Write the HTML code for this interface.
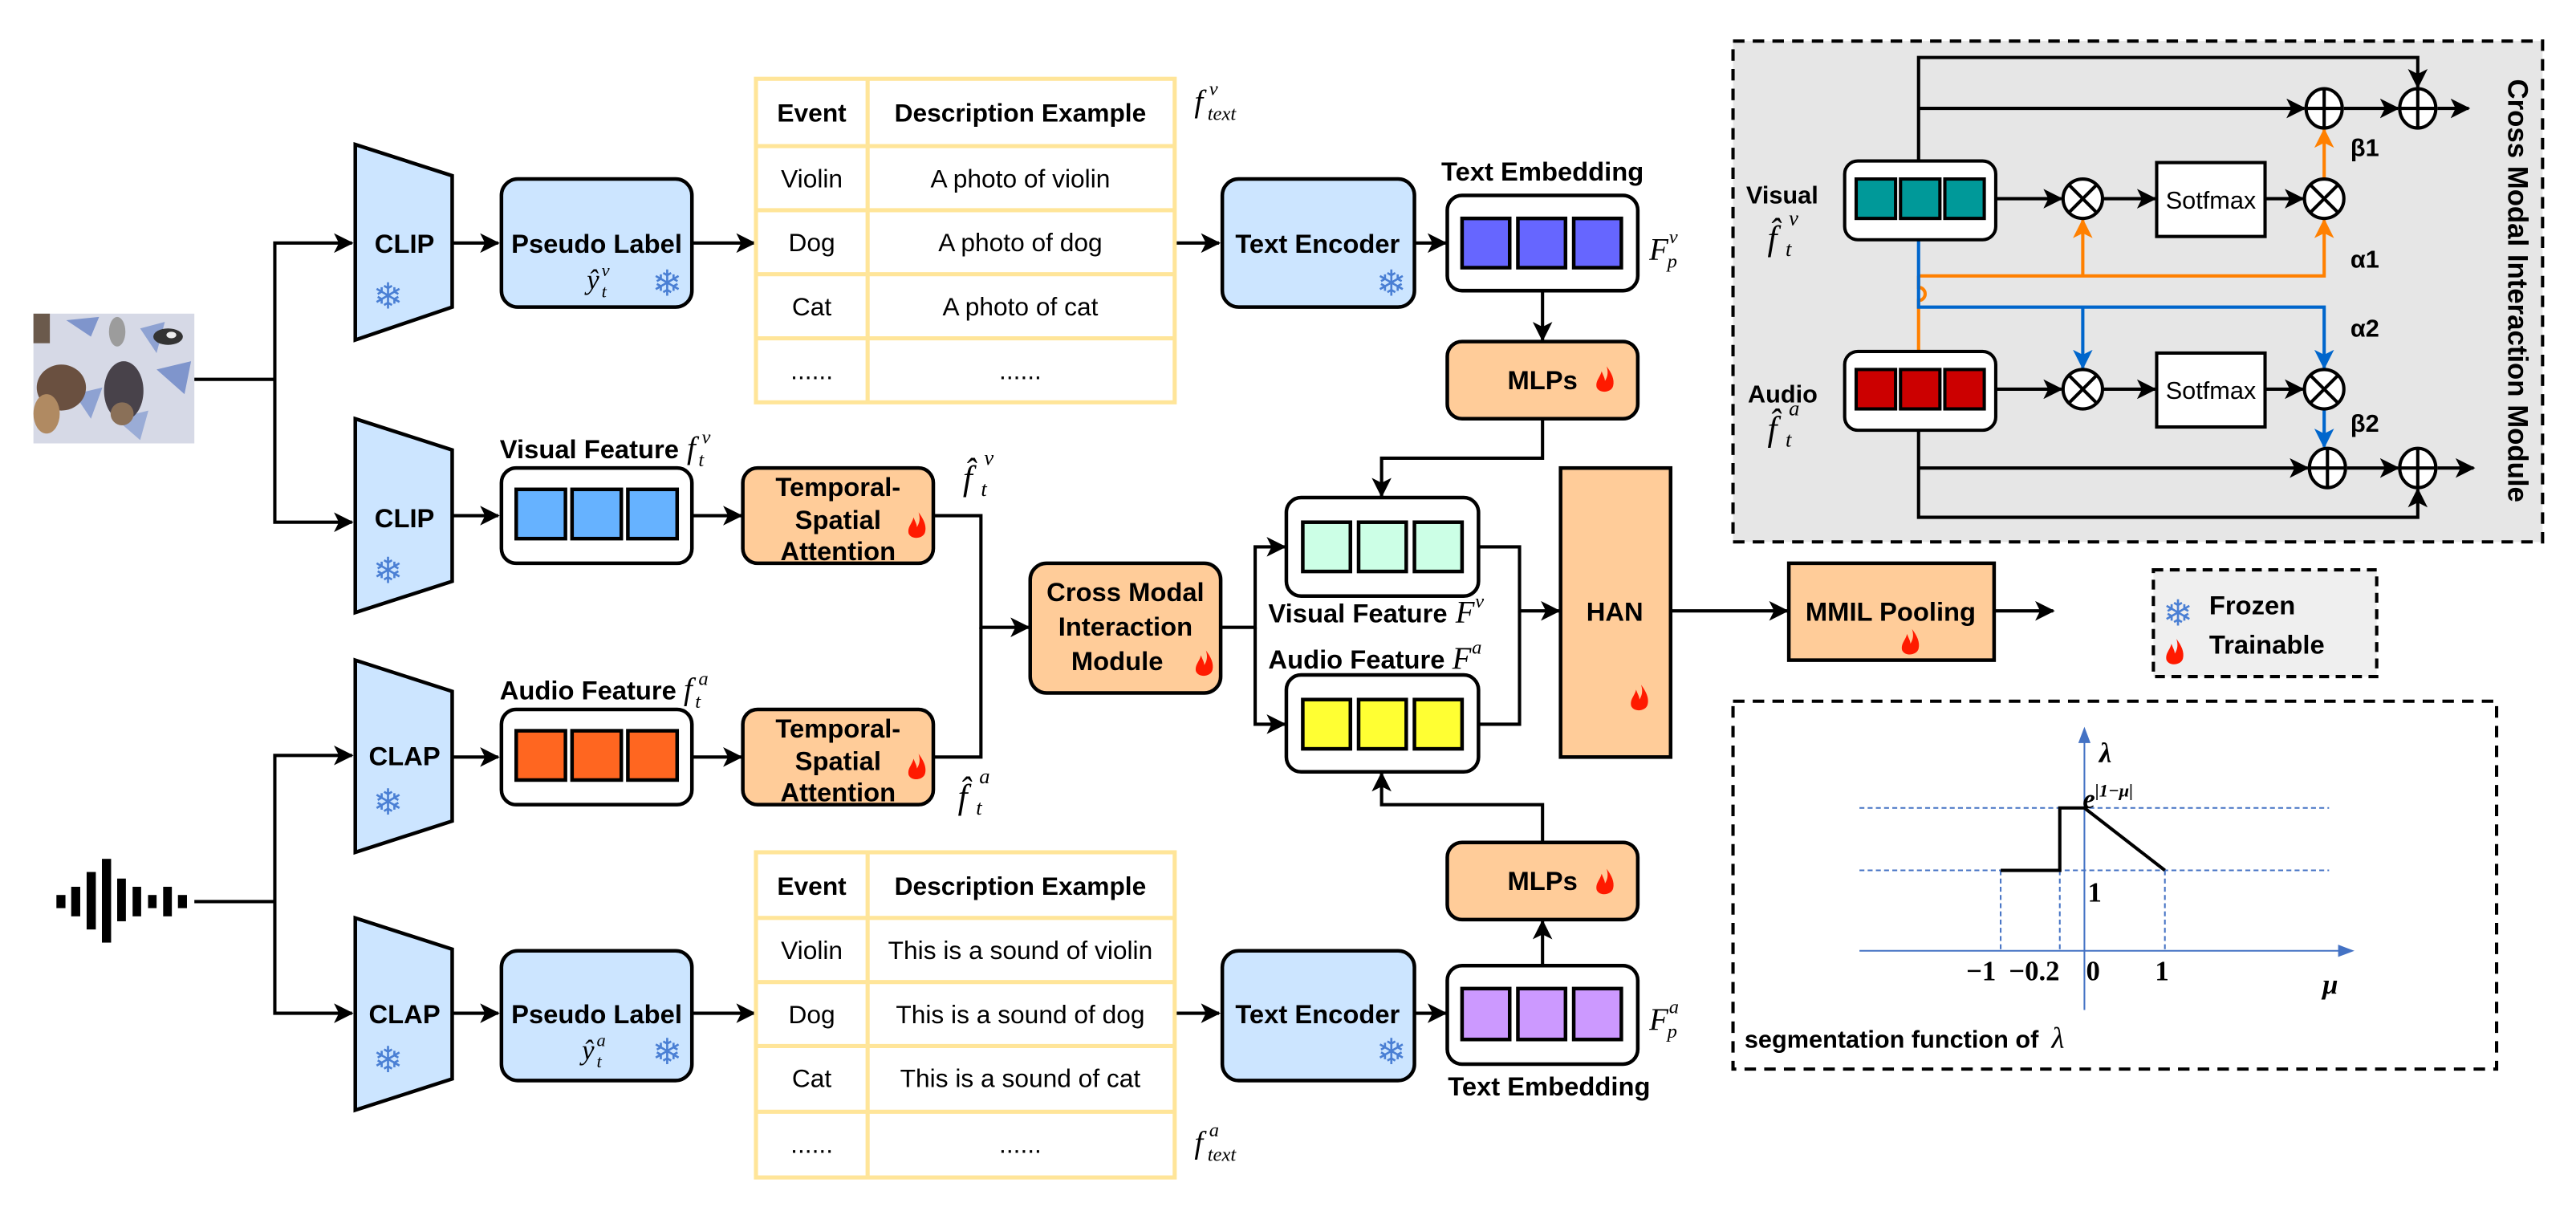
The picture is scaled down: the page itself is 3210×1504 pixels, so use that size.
<!DOCTYPE html>
<html><head><meta charset="utf-8"><style>
html,body{margin:0;padding:0;background:#fff;}
svg{display:block;}
.b{font-family:"Liberation Sans",sans-serif;font-weight:bold;}
.r{font-family:"Liberation Sans",sans-serif;}
.m{font-family:"Liberation Serif",serif;font-style:italic;}
.sn{font-family:"DejaVu Sans",sans-serif;fill:#4a7fd4;}
</style></head><body>
<svg width="3210" height="1504" viewBox="0 0 1568 735" xmlns="http://www.w3.org/2000/svg">
<defs>
<marker id="ak" markerUnits="userSpaceOnUse" markerWidth="12" markerHeight="12" refX="11" refY="6" orient="auto"><path d="M0,0 L12,6 L0,12 L3,6z" fill="#000"/></marker>
<marker id="ao" markerUnits="userSpaceOnUse" markerWidth="12" markerHeight="12" refX="11" refY="6" orient="auto"><path d="M0,0 L12,6 L0,12 L3,6z" fill="#ff8000"/></marker>
<marker id="ab" markerUnits="userSpaceOnUse" markerWidth="12" markerHeight="12" refX="11" refY="6" orient="auto"><path d="M0,0 L12,6 L0,12 L3,6z" fill="#0066cc"/></marker>
<path id="fl" d="M1,-9 C4,-5 6,-1 5,3 C4,7 -3,8 -5,4 C-6,0 -3,-2 -2,-6 C-1,-3 0,-2 0,0 C2,-3 2,-6 1,-9Z" fill="#ff1a00"/>
</defs>

<rect x="20" y="191" width="98" height="79" fill="#d6d9e6"/>
<polygon points="40,195 60,193 55,205" fill="#7f95cc"/>
<polygon points="85,200 100,196 95,215" fill="#8ea2d2"/>
<polygon points="95,225 116,220 112,240" fill="#7f95cc"/>
<polygon points="45,240 62,236 55,255" fill="#8ea2d2"/>
<polygon points="70,255 90,250 85,268" fill="#9aacd6"/>
<rect x="20" y="191" width="10" height="18" fill="#6b5a4c"/>
<ellipse cx="37" cy="236" rx="15" ry="14" fill="#6a5040"/>
<ellipse cx="28" cy="252" rx="8" ry="12" fill="#b08a62"/>
<ellipse cx="75" cy="238" rx="12" ry="18" fill="#48424a"/>
<ellipse cx="74" cy="252" rx="7" ry="7" fill="#8a7058"/>
<ellipse cx="102" cy="205" rx="9" ry="5" fill="#333"/>
<ellipse cx="104" cy="204" rx="3" ry="2" fill="#eee"/>
<ellipse cx="71" cy="202" rx="5" ry="9" fill="#9c9c9c"/>

<g fill="#000">
<rect x="34" y="545" width="5.5" height="8"/><rect x="43" y="540" width="5.5" height="18"/>
<rect x="52.4" y="531" width="5.6" height="35"/><rect x="61.7" y="523" width="5.6" height="51"/>
<rect x="71" y="535" width="5.3" height="26"/><rect x="80.4" y="540" width="5.2" height="18"/>
<rect x="89.8" y="545" width="5.2" height="8"/><rect x="99" y="540" width="5.3" height="18"/>
<rect x="108" y="545" width="5.5" height="8"/>
</g>

<g stroke="#000" stroke-width="2" fill="none">
<path d="M118,231 H167 V318 H214" marker-end="url(#ak)"/>
<path d="M167,231 V148 H214" marker-end="url(#ak)"/>
<path d="M118,549 H167 V460 H214" marker-end="url(#ak)"/>
<path d="M167,549 V617 H214" marker-end="url(#ak)"/>
</g>

<g fill="#cce5ff" stroke="#000" stroke-width="2.2">
<polygon points="216,88 275,107 275,187 216,207"/>
<polygon points="216,255 275,274 275,354 216,373"/>
<polygon points="216,402 275,421 275,500 216,519"/>
<polygon points="216,559 275,578 275,657 216,676"/>
</g>
<g class="b" font-size="16" text-anchor="middle">
<text x="246" y="154">CLIP</text><text x="246" y="321">CLIP</text>
<text x="246" y="466">CLAP</text><text x="246" y="623">CLAP</text>
</g>
<g class="sn" font-size="22" text-anchor="middle">
<text x="236" y="188">❄</text><text x="236" y="355">❄</text>
<text x="236" y="496">❄</text><text x="236" y="653">❄</text>
</g>

<g stroke="#000" stroke-width="2" fill="none">
<path d="M275,148 H303" marker-end="url(#ak)"/>
<path d="M275,314 H303" marker-end="url(#ak)"/>
<path d="M275,461 H303" marker-end="url(#ak)"/>
<path d="M275,617 H303" marker-end="url(#ak)"/>
<path d="M421,148 H459" marker-end="url(#ak)"/>
<path d="M421,617 H459" marker-end="url(#ak)"/>
<path d="M715,148 H742" marker-end="url(#ak)"/>
<path d="M715,617 H742" marker-end="url(#ak)"/>
<path d="M861,148 H880" marker-end="url(#ak)"/>
<path d="M861,617 H880" marker-end="url(#ak)"/>
<path d="M421,314 H451" marker-end="url(#ak)"/>
<path d="M421,461 H451" marker-end="url(#ak)"/>
</g>

<g fill="#cce5ff" stroke="#000" stroke-width="2.2">
<rect x="305" y="109" width="116" height="78" rx="10"/>
<rect x="305" y="579" width="116" height="79" rx="10"/>
<rect x="744" y="109" width="117" height="78" rx="10"/>
<rect x="744" y="579" width="117" height="79" rx="10"/>
</g>
<g class="b" font-size="16" text-anchor="middle">
<text x="363" y="154">Pseudo Label</text><text x="363" y="623">Pseudo Label</text>
<text x="802" y="154">Text Encoder</text><text x="802" y="623">Text Encoder</text>
</g>
<g class="m">
<text font-size="17" x="357" y="176">ŷ</text><text font-size="11" x="366" y="168">v</text><text font-size="11" x="366" y="181">t</text>
<text font-size="17" x="354" y="645">ŷ</text><text font-size="11" x="363" y="637">a</text><text font-size="11" x="363" y="650">t</text>
</g>
<g class="sn" font-size="22" text-anchor="middle">
<text x="406" y="180">❄</text><text x="406" y="648">❄</text>
<text x="847" y="180">❄</text><text x="847" y="648">❄</text>
</g>

<g stroke="#ffe599" stroke-width="2.5" fill="#fff">
<rect x="460" y="48" width="255" height="197"/>
<line x1="528" y1="48" x2="528" y2="245"/>
<line x1="460" y1="89" x2="715" y2="89"/><line x1="460" y1="128" x2="715" y2="128"/>
<line x1="460" y1="167" x2="715" y2="167"/><line x1="460" y1="206" x2="715" y2="206"/>
<rect x="460" y="519" width="255" height="198"/>
<line x1="528" y1="519" x2="528" y2="717"/>
<line x1="460" y1="559" x2="715" y2="559"/><line x1="460" y1="598" x2="715" y2="598"/>
<line x1="460" y1="637" x2="715" y2="637"/><line x1="460" y1="677" x2="715" y2="677"/>
</g>
<g font-size="15.5" text-anchor="middle">
<text class="b" x="494" y="74">Event</text><text class="b" x="621" y="74">Description Example</text>
<text class="r" x="494" y="114">Violin</text><text class="r" x="621" y="114">A photo of violin</text>
<text class="r" x="494" y="153">Dog</text><text class="r" x="621" y="153">A photo of dog</text>
<text class="r" x="494" y="192">Cat</text><text class="r" x="621" y="192">A photo of cat</text>
<text class="r" x="494" y="231">......</text><text class="r" x="621" y="231">......</text>
<text class="b" x="494" y="545">Event</text><text class="b" x="621" y="545">Description Example</text>
<text class="r" x="494" y="584">Violin</text><text class="r" x="621" y="584">This is a sound of violin</text>
<text class="r" x="494" y="623">Dog</text><text class="r" x="621" y="623">This is a sound of dog</text>
<text class="r" x="494" y="662">Cat</text><text class="r" x="621" y="662">This is a sound of cat</text>
<text class="r" x="494" y="702">......</text><text class="r" x="621" y="702">......</text>
</g>
<g class="m">
<text font-size="19" x="727" y="68">f</text><text font-size="12" x="736" y="58">v</text><text font-size="12" x="735" y="73">text</text>
<text font-size="19" x="727" y="702">f</text><text font-size="12" x="736" y="692">a</text><text font-size="12" x="735" y="707">text</text>
</g>

<g stroke="#000" stroke-width="2.2">
<rect x="881" y="119" width="116" height="58" rx="9" fill="#fff"/>
<rect x="890" y="133" width="29" height="30" fill="#6666ff"/><rect x="924" y="133" width="29" height="30" fill="#6666ff"/><rect x="958" y="133" width="29" height="30" fill="#6666ff"/>
<rect x="881" y="588" width="116" height="60" rx="9" fill="#fff"/>
<rect x="890" y="602" width="29" height="31" fill="#cc99ff"/><rect x="924" y="602" width="29" height="31" fill="#cc99ff"/><rect x="958" y="602" width="29" height="31" fill="#cc99ff"/>
</g>
<text class="b" font-size="16" x="939" y="110" text-anchor="middle">Text Embedding</text>
<text class="b" font-size="16" x="943" y="667" text-anchor="middle">Text Embedding</text>
<g class="m">
<text font-size="19" x="1004" y="158">F</text><text font-size="12" x="1016" y="148">v</text><text font-size="12" x="1015" y="163">p</text>
<text font-size="19" x="1004" y="627">F</text><text font-size="12" x="1016" y="617">a</text><text font-size="12" x="1015" y="632">p</text>
</g>

<g fill="#ffcc99" stroke="#000" stroke-width="2.2">
<rect x="881" y="208" width="116" height="47" rx="9"/>
<rect x="881" y="513" width="116" height="47" rx="9"/>
<rect x="452" y="285" width="116" height="58" rx="9"/>
<rect x="452" y="432" width="116" height="58" rx="9"/>
<rect x="627" y="343" width="116" height="79" rx="10"/>
<rect x="950" y="285" width="67" height="176"/>
<rect x="1089" y="343" width="125" height="59"/>
</g>
<g class="b" font-size="16" text-anchor="middle">
<text x="939" y="237">MLPs</text><text x="939" y="542">MLPs</text>
<text x="510" y="302">Temporal-</text><text x="510" y="322">Spatial</text><text x="510" y="341">Attention</text>
<text x="510" y="449">Temporal-</text><text x="510" y="469">Spatial</text><text x="510" y="488">Attention</text>
<text x="685" y="366">Cross Modal</text><text x="685" y="387">Interaction</text><text x="680" y="408">Module</text>
<text x="983" y="378">HAN</text>
<text x="1151" y="378">MMIL Pooling</text>
</g>
<use href="#fl" x="977" y="232"/><use href="#fl" x="977" y="538"/>
<use href="#fl" x="558" y="321"/><use href="#fl" x="558" y="468"/>
<use href="#fl" x="733" y="405"/><use href="#fl" x="998" y="426"/>
<use href="#fl" x="1163" y="392"/>

<g stroke="#000" stroke-width="2" fill="none">
<path d="M939,177 V207" marker-end="url(#ak)"/>
<path d="M939,255 V279 H841 V302" marker-end="url(#ak)"/>
<path d="M939,588 V561" marker-end="url(#ak)"/>
<path d="M939,513 V490 H841 V471" marker-end="url(#ak)"/>
<path d="M568,314 H597 V382 H626" marker-end="url(#ak)"/>
<path d="M568,461 H597 V382"/>
<path d="M743,382 H764 V333 H782" marker-end="url(#ak)"/>
<path d="M764,382 V441 H782" marker-end="url(#ak)"/>
<path d="M900,333 H925 V372 H949" marker-end="url(#ak)"/>
<path d="M900,441 H925 V372"/>
<path d="M1017,372 H1088" marker-end="url(#ak)"/>
<path d="M1214,372 H1250" marker-end="url(#ak)"/>
</g>

<g stroke="#000" stroke-width="2.2">
<rect x="305" y="285" width="116" height="58" rx="9" fill="#fff"/>
<rect x="314" y="298" width="30" height="30" fill="#66b2ff"/><rect x="348" y="298" width="30" height="30" fill="#66b2ff"/><rect x="382" y="298" width="30" height="30" fill="#66b2ff"/>
<rect x="305" y="432" width="116" height="58" rx="9" fill="#fff"/>
<rect x="314" y="445" width="30" height="30" fill="#ff6620"/><rect x="348" y="445" width="30" height="30" fill="#ff6620"/><rect x="382" y="445" width="30" height="30" fill="#ff6620"/>
<rect x="783" y="303" width="117" height="60" rx="9" fill="#fff"/>
<rect x="793" y="318" width="29" height="30" fill="#ccffe6"/><rect x="827" y="318" width="29" height="30" fill="#ccffe6"/><rect x="861" y="318" width="29" height="30" fill="#ccffe6"/>
<rect x="783" y="411" width="117" height="59" rx="9" fill="#fff"/>
<rect x="793" y="426" width="29" height="30" fill="#ffff33"/><rect x="827" y="426" width="29" height="30" fill="#ffff33"/><rect x="861" y="426" width="29" height="30" fill="#ffff33"/>
</g>
<text class="b" font-size="16" x="304" y="279">Visual Feature</text>
<text class="m" font-size="19" x="418" y="279">f</text><text class="m" font-size="12" x="427" y="270">v</text><text class="m" font-size="12" x="425" y="284">t</text>
<text class="b" font-size="16" x="304" y="426">Audio Feature</text>
<text class="m" font-size="19" x="416" y="426">f</text><text class="m" font-size="12" x="425" y="417">a</text><text class="m" font-size="12" x="423" y="431">t</text>
<text class="b" font-size="16" x="772" y="379">Visual Feature</text>
<text class="m" font-size="19" x="886" y="379">F</text><text class="m" font-size="12" x="898" y="370">v</text>
<text class="b" font-size="16" x="772" y="407">Audio Feature</text>
<text class="m" font-size="19" x="884" y="407">F</text><text class="m" font-size="12" x="896" y="398">a</text>
<g class="m">
<text font-size="21" x="586" y="298">f̂</text><text font-size="13" x="599" y="283">v</text><text font-size="13" x="597" y="302">t</text>
<text font-size="21" x="583" y="492">f̂</text><text font-size="13" x="596" y="477">a</text><text font-size="13" x="594" y="496">t</text>
</g>

<rect x="1311" y="347" width="136" height="65" fill="#efefef" stroke="#000" stroke-width="2" stroke-dasharray="6,4"/>
<text class="sn" font-size="22" x="1326" y="381" text-anchor="middle">❄</text>
<use href="#fl" x="1324" y="398"/>
<text class="b" font-size="16" x="1345" y="374">Frozen</text>
<text class="b" font-size="16" x="1345" y="398">Trainable</text>

<rect x="1055" y="25" width="493" height="305" fill="#e6e6e6" stroke="#000" stroke-width="2" stroke-dasharray="7,5"/>
<text class="b" font-size="17" transform="translate(1527,177) rotate(90)" text-anchor="middle">Cross Modal Interaction Module</text>
<g stroke="#000" stroke-width="2" fill="none">
<path d="M1168,98 V35 H1472 V53" marker-end="url(#ak)"/>
<path d="M1168,66 H1403" marker-end="url(#ak)"/>
<path d="M1427,66 H1460" marker-end="url(#ak)"/>
<path d="M1484,66 H1503" marker-end="url(#ak)"/>
<path d="M1215,121 H1255" marker-end="url(#ak)"/>
<path d="M1280,121 H1312" marker-end="url(#ak)"/>
<path d="M1379,121 H1402" marker-end="url(#ak)"/>
<path d="M1215,237 H1255" marker-end="url(#ak)"/>
<path d="M1280,237 H1312" marker-end="url(#ak)"/>
<path d="M1379,237 H1402" marker-end="url(#ak)"/>
<path d="M1168,262 V315 H1472 V298" marker-end="url(#ak)"/>
<path d="M1168,285 H1405" marker-end="url(#ak)"/>
<path d="M1429,285 H1460" marker-end="url(#ak)"/>
<path d="M1484,285 H1506" marker-end="url(#ak)"/>
</g>
<g stroke="#ff8000" stroke-width="2" fill="none">
<path d="M1415,109 V79" marker-end="url(#ao)"/>
<path d="M1168,168 H1415 V134" marker-end="url(#ao)"/>
<path d="M1268,168 V134" marker-end="url(#ao)"/>
<path d="M1168,214 V183 A4,4 0 0 0 1168,175 V168"/>
</g>
<g stroke="#0066cc" stroke-width="2" fill="none">
<path d="M1168,146 V187 H1415 V224" marker-end="url(#ab)"/>
<path d="M1268,187 V224" marker-end="url(#ab)"/>
<path d="M1415,249 V272" marker-end="url(#ab)"/>
</g>
<g stroke="#000" stroke-width="2" fill="#fff">
<rect x="1123" y="98" width="92" height="48" rx="8"/>
<rect x="1130" y="109" width="24" height="24" fill="#009999"/><rect x="1157" y="109" width="24" height="24" fill="#009999"/><rect x="1184" y="109" width="24" height="24" fill="#009999"/>
<rect x="1123" y="214" width="92" height="48" rx="8"/>
<rect x="1130" y="225" width="24" height="24" fill="#cc0000"/><rect x="1157" y="225" width="24" height="24" fill="#cc0000"/><rect x="1184" y="225" width="24" height="24" fill="#cc0000"/>
<rect x="1313" y="99" width="66" height="45"/>
<rect x="1313" y="215" width="66" height="45"/>
<ellipse cx="1415" cy="66" rx="11" ry="12"/><ellipse cx="1472" cy="66" rx="11" ry="12"/>
<ellipse cx="1417" cy="285" rx="11" ry="12"/><ellipse cx="1472" cy="285" rx="11" ry="12"/>
<ellipse cx="1268" cy="121" rx="12" ry="12"/><ellipse cx="1415" cy="121" rx="12" ry="12"/>
<ellipse cx="1268" cy="237" rx="12" ry="12"/><ellipse cx="1415" cy="237" rx="12" ry="12"/>
</g>
<g stroke="#000" stroke-width="2">
<path d="M1404,66 H1426 M1415,54 V78 M1461,66 H1483 M1472,54 V78 M1406,285 H1428 M1417,273 V297 M1461,285 H1483 M1472,273 V297"/>
<path d="M1260,113 L1276,129 M1276,113 L1260,129 M1407,113 L1423,129 M1423,113 L1407,129 M1260,229 L1276,245 M1276,229 L1260,245 M1407,229 L1423,245 M1423,229 L1407,245"/>
</g>
<g class="r" font-size="15" text-anchor="middle">
<text x="1346" y="127">Sotfmax</text><text x="1346" y="243">Sotfmax</text>
</g>
<g class="b" font-size="15">
<text x="1431" y="95">β1</text><text x="1431" y="163">α1</text>
<text x="1431" y="205">α2</text><text x="1431" y="263">β2</text>
<text x="1063" y="124">Visual</text><text x="1064" y="245">Audio</text>
</g>
<g class="m">
<text font-size="21" x="1076" y="152">f̂</text><text font-size="13" x="1089" y="137">v</text><text font-size="13" x="1087" y="156">t</text>
<text font-size="21" x="1076" y="268">f̂</text><text font-size="13" x="1089" y="253">a</text><text font-size="13" x="1087" y="272">t</text>
</g>

<rect x="1055" y="427" width="465" height="224" fill="none" stroke="#000" stroke-width="2" stroke-dasharray="7,5"/>
<g stroke="#4472c4" stroke-width="1">
<line x1="1269" y1="615" x2="1269" y2="450"/>
<path d="M1266,452 L1269,444 L1272,452z" fill="#4472c4"/>
<line x1="1132" y1="579" x2="1426" y2="579"/>
<path d="M1424,576 L1432,579 L1424,582z" fill="#4472c4"/>
<line x1="1132" y1="492" x2="1418" y2="492" stroke-dasharray="3,2"/>
<line x1="1132" y1="530" x2="1418" y2="530" stroke-dasharray="3,2"/>
<line x1="1218" y1="530" x2="1218" y2="579" stroke-dasharray="3,2"/>
<line x1="1254" y1="530" x2="1254" y2="579" stroke-dasharray="3,2"/>
<line x1="1318" y1="530" x2="1318" y2="579" stroke-dasharray="3,2"/>
</g>
<path d="M1218,530 H1254 V492 H1269 L1318,530" fill="none" stroke="#000" stroke-width="2"/>
<g font-family="Liberation Serif,serif" font-weight="bold" font-size="17">
<text x="1278" y="464" font-style="italic">λ</text>
<text x="1268" y="492" font-style="italic">e<tspan font-size="11" dy="-7">|1−μ|</tspan></text>
<text x="1271" y="549">1</text>
<text x="1197" y="597">−1</text><text x="1223" y="597">−0.2</text><text x="1270" y="597">0</text><text x="1312" y="597">1</text>
<text x="1414" y="605" font-style="italic">μ</text>
</g>
<text class="b" font-size="15" x="1062" y="638">segmentation function of</text>
<text class="m" font-size="18" x="1249" y="638">λ</text>
</svg>
</body></html>
